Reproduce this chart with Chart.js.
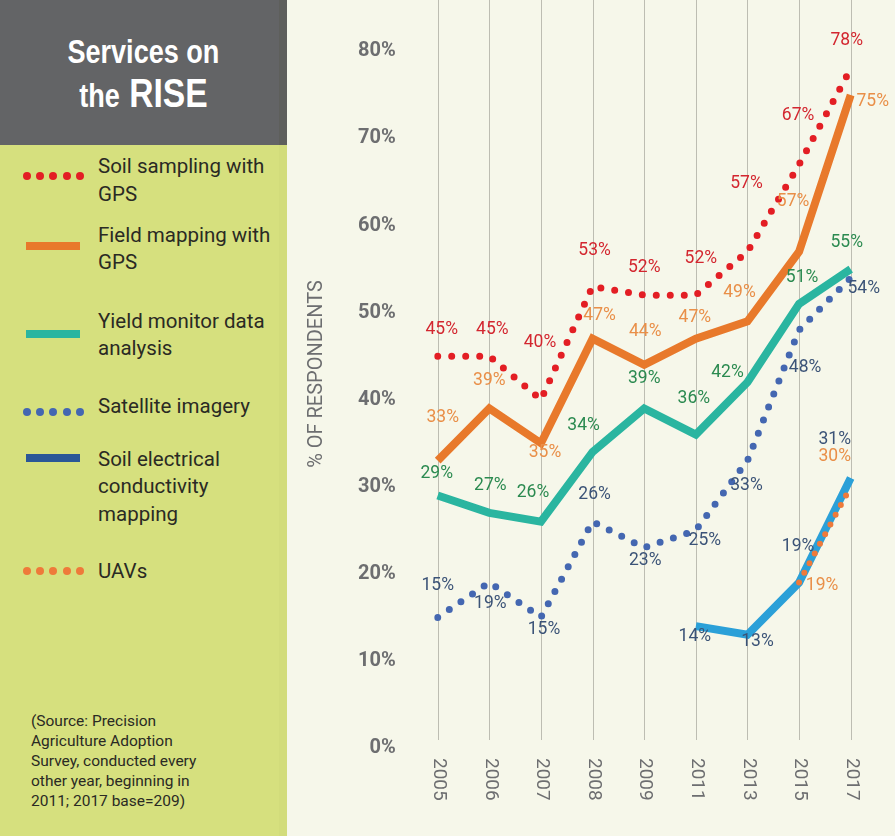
<!DOCTYPE html>
<html><head><meta charset="utf-8">
<script src="https://cdn.jsdelivr.net/npm/chart.js@4/dist/chart.umd.min.js"></script>
<style>
html,body{margin:0;padding:0;width:895px;height:836px;overflow:hidden;background:#f6f7ea;}
#left{position:absolute;left:0;top:0;width:287px;height:836px;background:#d6e07e;}
#strip{position:absolute;left:279px;top:145px;width:8px;height:691px;background:#d2dc7b;}
#head{position:absolute;left:0;top:0;width:287px;height:145px;background:#636466;}
#hstrip{position:absolute;left:279px;top:0;width:8px;height:145px;background:#5e5f5c;}
.t{position:absolute;left:0;width:287px;text-align:center;color:#fff;font-family:'Liberation Sans',Arial,sans-serif;font-weight:bold;transform:scaleX(0.82);transform-origin:143px 0;}
#t1{top:35px;font-size:33px;line-height:33px;}
#t2{top:73px;font-size:41px;line-height:41px;}
#t2 .sm{font-size:33px;}
.lg{position:absolute;left:98px;font-family:Roboto,'Liberation Sans',sans-serif;font-size:20.5px;line-height:27.5px;color:#2a2a24;white-space:nowrap;}
.bar{position:absolute;left:26px;width:54px;height:8px;}
.dots{position:absolute;left:22.7px;height:8px;width:62px;}
.dots span{position:absolute;top:0;width:8px;height:8px;border-radius:50%;}
#src{position:absolute;left:31px;top:711.4px;font-family:Roboto,'Liberation Sans',sans-serif;font-size:15.5px;line-height:20px;color:#2a2a24;}
#cv{position:absolute;left:287px;top:0;}
</style></head>
<body>
<div id="left">
  <div id="strip"></div>
  <div id="head"><div id="hstrip"></div>
    <div class="t" id="t1">Services on</div>
    <div class="t" id="t2"><span class="sm">the</span> RISE</div>
  </div>
  <div class="dots" id="d1" style="top:172px"></div>
  <div class="lg" style="top:153.2px">Soil sampling with<br>GPS</div>
  <div class="bar" style="top:242px;background:#e8792b"></div>
  <div class="lg" style="top:221.9px">Field mapping with<br>GPS</div>
  <div class="bar" style="top:329.5px;background:#2ab5a0"></div>
  <div class="lg" style="top:307.5px">Yield monitor data<br>analysis</div>
  <div class="dots" id="d2" style="top:407.7px"></div>
  <div class="lg" style="top:392.5px">Satellite imagery</div>
  <div class="bar" style="top:454px;background:#2b5797"></div>
  <div class="lg" style="top:445.9px">Soil electrical<br>conductivity<br>mapping</div>
  <div class="dots" id="d3" style="top:566.7px"></div>
  <div class="lg" style="top:558.2px">UAVs</div>
  <div id="src">(Source: Precision<br>Agriculture Adoption<br>Survey, conducted every<br>other year, beginning in<br>2011; 2017 base=209)</div>
</div>
<canvas id="cv" width="608" height="836"></canvas>
<script>
// ---- data ----
const years = ['2005','2006','2007','2008','2009','2011','2013','2015','2017'];
const soilSampling = [45,45,40,53,52,52,57,67,78];
const fieldMapping = [33,39,35,47,44,47,49,57,75];
const yieldMonitor = [29,27,26,34,39,36,42,51,55];
const satelliteImagery = [15,19,15,26,23,25,33,48,54];
const soilConductivity = [null,null,null,null,null,14,13,19,31];
const uavs = [null,null,null,null,null,null,null,19,30];
const yTickValues = [0,10,20,30,40,50,60,70,80];

// legend dots
function makeDots(id, color){
  const el = document.getElementById(id);
  for(let i=0;i<5;i++){const s=document.createElement('span');s.style.left=(i*13.33)+'px';s.style.background=color;el.appendChild(s);}
}
makeDots('d1','#e31e24'); makeDots('d2','#4467b1'); makeDots('d3','#ee7a3a');

const FONT = "Roboto,'Liberation Sans',sans-serif";

const gridPlugin = {
  id:'vgrid',
  beforeDatasetsDraw(chart){
    const {ctx, scales:{x}} = chart;
    ctx.save();
    ctx.strokeStyle = '#bdbdb2'; ctx.lineWidth = 1;
    years.forEach((y,i)=>{
      const px = Math.round(x.getPixelForValue(i)) + 0.5;
      ctx.beginPath(); ctx.moveTo(px,0); ctx.lineTo(px,740); ctx.stroke();
    });
    ctx.restore();
  }
};

const xLabelPlugin = {
  id:'xlabels',
  afterDraw(chart){
    const {ctx, scales:{x}} = chart;
    ctx.save();
    ctx.font = '19px ' + FONT;
    ctx.fillStyle = '#6d6e70';
    ctx.textAlign = 'left'; ctx.textBaseline = 'middle';
    years.forEach((y,i)=>{
      const px = x.getPixelForValue(i) + 1;
      ctx.save(); ctx.translate(px, 758); ctx.rotate(Math.PI/2); ctx.fillText(y,0,0); ctx.restore();
    });
    ctx.restore();
  }
};

const valueLabelPlugin = {
  id:'vlabels',
  afterDatasetsDraw(chart){
    const ctx = chart.ctx;
    ctx.save();
    ctx.font = '17.5px ' + FONT;
    ctx.textAlign = 'center'; ctx.textBaseline = 'middle';
    chart.data.datasets.forEach((ds,di)=>{
      const meta = chart.getDatasetMeta(di);
      ctx.fillStyle = ds.labelColor;
      meta.data.forEach((pt,i)=>{
        const v = ds.data[i];
        if(v===null || v===undefined) return;
        const off = ds.labelOffsets[i];
        ctx.fillText(v+'%', pt.x + off[0], pt.y + off[1]);
      });
    });
    ctx.restore();
  }
};

const dotted = {borderWidth:7, borderDash:[0,14], borderCapStyle:'round', pointRadius:0, fill:false, tension:0};
const solid = {borderWidth:8, borderCapStyle:'butt', borderJoinStyle:'miter', pointRadius:0, fill:false, tension:0};

new Chart(document.getElementById('cv'), {
  type:'line',
  data:{
    labels: years,
    datasets:[
      Object.assign({label:'Soil sampling with GPS', data:soilSampling, borderColor:'#e31e24', labelColor:'#d3262f',
        labelOffsets:[[4,-27],[3,-27],[-1,-57],[2,-36],[0,-28],[5,-37],[-1,-68],[-1,-49],[-4,-28]]}, dotted),
      Object.assign({label:'Field mapping with GPS', data:fieldMapping, borderColor:'#e8792b', labelColor:'#e98f48',
        labelOffsets:[[5,-43],[0,-28],[4,9],[7,-23],[1,-33],[-1,-21],[-8,-29],[-6,-50],[22,7]]}, solid),
      Object.assign({label:'Yield monitor data analysis', data:yieldMonitor, borderColor:'#2ab5a0', labelColor:'#2b8a50',
        labelOffsets:[[-1,-22],[1,-27],[-8,-29],[-9,-26],[0,-30],[-2,-36],[-20,-10],[3,-26],[-4,-26]]}, solid),
      Object.assign({label:'Satellite imagery', data:satelliteImagery, borderColor:'#4467b1', labelColor:'#3b5377',
        labelOffsets:[[0,-32],[1,21],[3,12],[2,-27],[1,13],[9,10],[-1,25],[6,38],[13,11]]}, dotted),
      Object.assign({label:'Soil electrical conductivity mapping', data:soilConductivity, borderColor:'#2ba0d8', labelColor:'#3b5377',
        labelOffsets:[null,null,null,null,null,[-1,11],[10,7],[-1,-36],[-16,-38]]}, solid),
      Object.assign({label:'UAVs', data:uavs, borderColor:'#ee7a3a', labelColor:'#e98f48',
        labelOffsets:[null,null,null,null,null,null,null,[23,3],[-16,-30]]}, dotted, {borderWidth:6, borderDash:[0,11]})
    ].map((d,i)=>Object.assign(d,{order:[1,6,5,2,4,0][i]}))
  },
  options:{
    responsive:false, animation:false, devicePixelRatio:1,
    layout:{padding:{left:0,right:44.3,top:0,bottom:88}},
    plugins:{legend:{display:false}, tooltip:{enabled:false}},
    scales:{
      x:{type:'category', display:false, offset:false},
      y:{
        min:0, max:85.9,
        afterFit(scale){ scale.width = 150.7; scale.paddingTop = 0; scale.paddingBottom = 0; },
        afterBuildTicks(scale){ scale.ticks = yTickValues.map(v=>({value:v})); },
        grid:{display:false, drawTicks:false},
        border:{display:false},
        ticks:{padding:42, color:'#6d6e70', font:{family:FONT, size:20, weight:'bold'}, callback:v=>v+'%'},
        title:{display:true, text:'% OF RESPONDENTS', color:'#6d6e70', font:{family:FONT, size:20}, padding:{top:17.7,bottom:0}}
      }
    }
  },
  plugins:[gridPlugin, valueLabelPlugin, xLabelPlugin]
});
</script>
</body></html>
